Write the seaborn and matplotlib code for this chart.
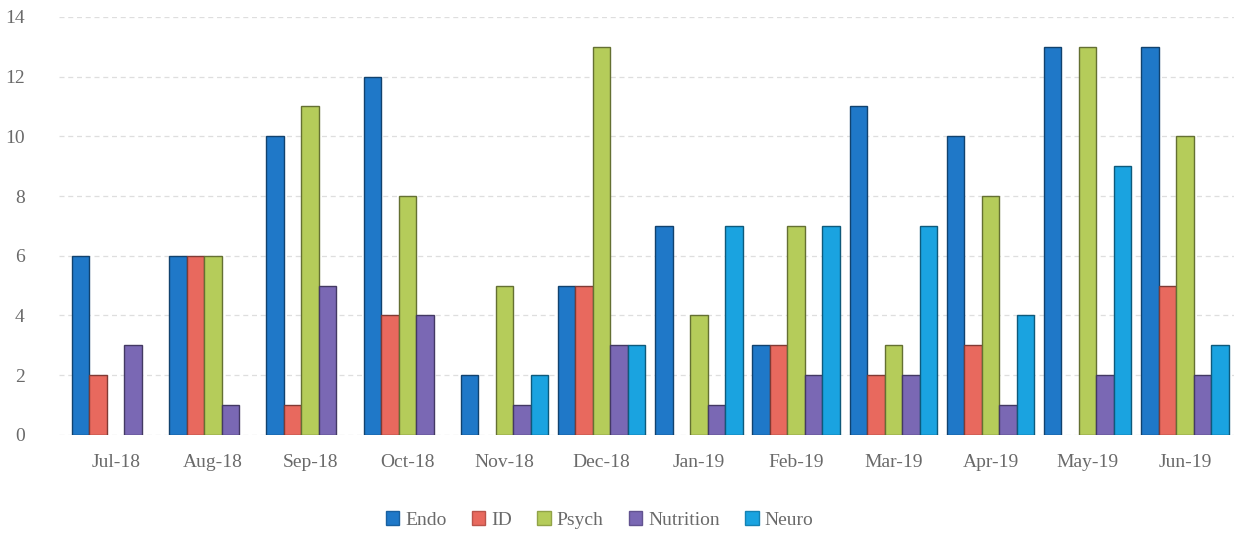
import numpy as np
import pandas as pd
import matplotlib
matplotlib.use("Agg")
import matplotlib.pyplot as plt
import seaborn as sns
from matplotlib.patches import Patch
from matplotlib.colors import to_rgb

months = ["Jul-18", "Aug-18", "Sep-18", "Oct-18", "Nov-18", "Dec-18",
          "Jan-19", "Feb-19", "Mar-19", "Apr-19", "May-19", "Jun-19"]
series = ["Endo", "ID", "Psych", "Nutrition", "Neuro"]
endo = [6, 6, 10, 12, 2, 5, 7, 3, 11, 10, 13, 13]
id_ = [2, 6, 1, 4, 0, 5, 0, 3, 2, 3, 0, 5]
psych = [0, 6, 11, 8, 5, 13, 4, 7, 3, 8, 13, 10]
nutrition = [3, 1, 5, 4, 1, 3, 1, 2, 2, 1, 2, 2]
neuro = [0, 0, 0, 0, 2, 3, 7, 7, 7, 4, 9, 3]
y_ticks = [0, 2, 4, 6, 8, 10, 12, 14]

colors = {"Endo": "#1f78c8", "ID": "#e8695e", "Psych": "#b5cc5a",
          "Nutrition": "#7a68b4", "Neuro": "#1aa3e0"}

values = {"Endo": endo, "ID": id_, "Psych": psych,
          "Nutrition": nutrition, "Neuro": neuro}
df = pd.DataFrame([
    {"Month": m, "Series": s, "Count": values[s][i]}
    for s in series for i, m in enumerate(months)
])

sns.set_theme(style="white")
plt.rcParams["font.family"] = ["Liberation Serif", "DejaVu Serif"]

fig = plt.figure(figsize=(12.36, 5.43), dpi=100)
ax = fig.add_axes([0.048, 0.199, 0.950, 0.770])

sns.barplot(data=df, x="Month", y="Count", hue="Series", order=months,
            hue_order=series, palette=colors, width=0.9, saturation=1,
            ax=ax, legend=False, zorder=3)

# darker edge on each bar for a bevelled look
def darken(c, f=0.55):
    r, g, b = to_rgb(c)
    return (r * f, g * f, b * f)

for container, s in zip(ax.containers, series):
    for bar in container:
        if bar.get_height() == 0:
            bar.set_linewidth(0)
            continue
        bar.set_edgecolor(darken(colors[s]))
        bar.set_linewidth(1.0)

ax.set_ylim(0, 14)
ax.set_xlim(-0.58, 11.5)
ax.set_yticks(y_ticks)
ax.set_yticklabels([str(t) for t in y_ticks])
ax.set_xlabel("")
ax.set_ylabel("")
ax.tick_params(axis="y", pad=25, labelsize=14, colors="#6a6a6a", length=0)
ax.tick_params(axis="x", pad=14, labelsize=14, colors="#6a6a6a", length=0)
ax.yaxis.grid(True, color="#dedede", linestyle=(0, (4, 3)), linewidth=0.9, zorder=0)
ax.set_axisbelow(True)
for sp in ax.spines.values():
    sp.set_visible(False)

handles = [Patch(facecolor=colors[s], edgecolor=darken(colors[s], 0.8), label=s)
           for s in series]
fig.legend(handles=handles, loc="center", bbox_to_anchor=(0.485, 0.042),
           ncol=5, frameon=False, fontsize=14, handlelength=0.7,
           handleheight=0.7, handletextpad=0.3, columnspacing=1.3,
           labelcolor="#6a6a6a")

fig.savefig("out.png", dpi=100, facecolor="white")
